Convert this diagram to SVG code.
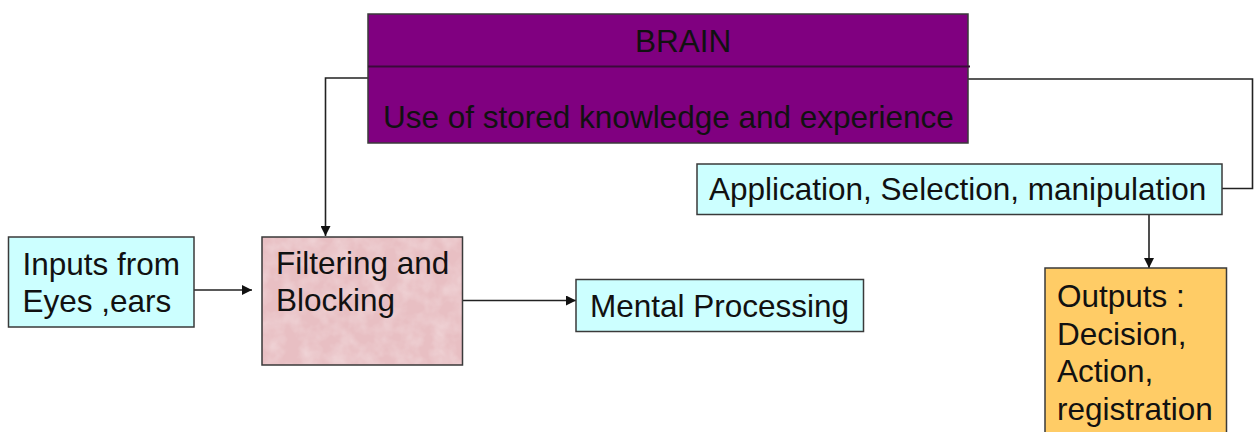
<svg xmlns="http://www.w3.org/2000/svg" width="1254" height="432" viewBox="0 0 1254 432">
  <defs>
    <style>
      text { font-family: "Liberation Sans", Arial, sans-serif; font-size: 31.5px; fill: #111; }
      .box { stroke: #3a3a3a; stroke-width: 1.5; }
      .cyan { fill: #CCFFFF; }
      .wire { fill: none; stroke: #222; stroke-width: 1.6; }
    </style>
    <marker id="arrow" viewBox="0 0 10 10" refX="10" refY="5" markerWidth="10" markerHeight="10" markerUnits="userSpaceOnUse" orient="auto">
      <path d="M0,0 L10,5 L0,10 Z" fill="#111"/>
    </marker>
    <!-- mottled paper look for the filter block -->
    <filter id="mottle" x="0" y="0" width="100%" height="100%">
      <feTurbulence type="fractalNoise" baseFrequency="0.06" numOctaves="3" seed="4" result="n"/>
      <feColorMatrix in="n" type="matrix" values="0 0 0 0 1  0 0 0 0 1  0 0 0 0 1  0 0 0 -1.6 1.05" result="spots"/>
      <feComposite in="spots" in2="SourceGraphic" operator="in"/>
    </filter>
  </defs>

  <rect width="1254" height="432" fill="#ffffff"/>

  <g id="connectors">
    <polyline class="wire" points="368,78 325.5,78 325.5,236" marker-end="url(#arrow)"/>
    <polyline class="wire" points="968,79 1252.5,79 1252.5,188.5 1222,188.5"/>
    <line class="wire" x1="189" y1="290" x2="252" y2="290" marker-end="url(#arrow)"/>
    <line class="wire" x1="462" y1="300.5" x2="576" y2="300.5" marker-end="url(#arrow)"/>
    <line class="wire" x1="1149" y1="214" x2="1149" y2="268" marker-end="url(#arrow)"/>
  </g>

  <g id="brain">
    <rect class="box" x="368" y="14" width="600" height="129" fill="#800080"/>
    <line x1="368" y1="66.5" x2="970" y2="66.5" stroke="#3a0a3a" stroke-width="2"/>
    <text x="635" y="52" fill="#1a0a1a">BRAIN</text>
    <text x="383" y="127.5" fill="#1a0a1a">Use of stored knowledge and experience</text>
  </g>

  <g id="inputs">
    <rect class="box cyan" x="8.5" y="237" width="185.5" height="90"/>
    <text x="22.5" y="275">Inputs from</text>
    <text x="22.5" y="311.5">Eyes ,ears</text>
  </g>

  <g id="filtering">
    <rect class="box" x="262" y="237" width="200.5" height="128" fill="#E8BFC3"/>
    <rect x="263" y="238" width="198.5" height="126" fill="#E8BFC3" filter="url(#mottle)" opacity="0.35"/>
    <text x="276" y="274">Filtering and</text>
    <text x="276" y="311">Blocking</text>
  </g>

  <g id="mental">
    <rect class="box cyan" x="576" y="279.5" width="287.5" height="52"/>
    <text x="590" y="317">Mental Processing</text>
  </g>

  <g id="application">
    <rect class="box cyan" x="697" y="164" width="525" height="50.5"/>
    <text x="709" y="199.5">Application, Selection, manipulation</text>
  </g>

  <g id="outputs">
    <rect class="box" x="1045" y="268" width="181.5" height="180" fill="#FFCC66"/>
    <text x="1057" y="307">Outputs :</text>
    <text x="1057" y="344.5">Decision,</text>
    <text x="1057" y="382">Action,</text>
    <text x="1057" y="419.5">registration</text>
  </g>
</svg>
